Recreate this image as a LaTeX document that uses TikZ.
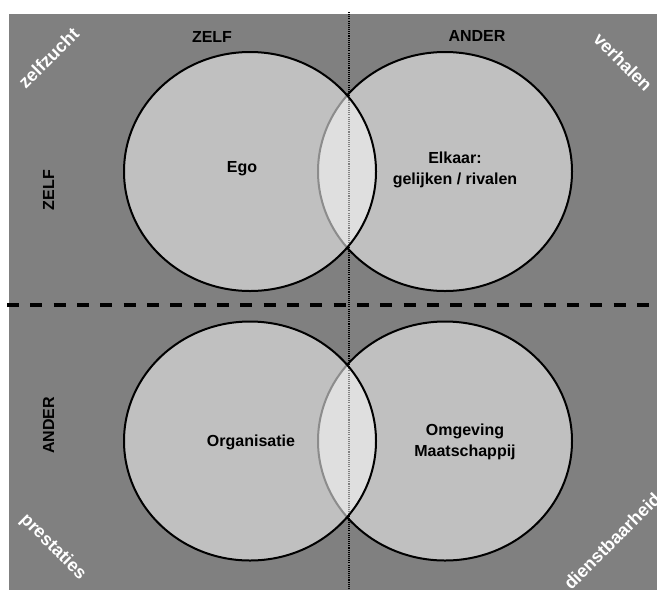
\documentclass[tikz,border=0pt]{standalone}
\usepackage{fontspec}
\setmainfont{Liberation Sans}
\definecolor{bggray}{HTML}{808080}
\definecolor{circgray}{HTML}{C0C0C0}
\definecolor{arcgray}{HTML}{8C8C8C}
\begin{document}
\begin{tikzpicture}[x=0.75pt, y=-0.75pt,
    every node/.style={font=\bfseries\fontsize{12}{15.5}\selectfont, inner sep=0pt, align=center},
    corner/.style={text=white, font=\bfseries\fontsize{13.5}{16}\selectfont},
    ring/.style={line width=1.5pt}]
    \useasboundingbox (0,0) rectangle (657,590);
    \fill[bggray] (9,14) rectangle (657,590);
    % dividers
    \draw[line width=2.6pt, dash pattern=on 9pt off 8.5pt] (7,305) -- (657,305);
    \foreach \cy in {171.5, 441} {
        \fill[circgray, draw=black, ring] (445,\cy) ellipse [x radius=127, y radius=119.5];
        \fill[circgray] (250,\cy) ellipse [x radius=126, y radius=119.5];
    }
    \draw[line width=0.8pt, dash pattern=on 0.8pt off 0.8pt] (349,12) -- (349,590);
    \foreach \cy in {171.5, 441} {
        \begin{scope}
            \clip (250,\cy) ellipse [x radius=126, y radius=119.5];
            \fill[white, opacity=0.5] (445,\cy) ellipse [x radius=127, y radius=119.5];
            \draw[arcgray, ring] (445,\cy) ellipse [x radius=127, y radius=119.5];
        \end{scope}
        \draw[ring] (250,\cy) ellipse [x radius=126, y radius=119.5];
    }
    % labels
    \node (topzelf) at (212,37) {ZELF};
    \node (topander) at (477,36) {ANDER};
    \node[rotate=90] (sidezelf) at (48.5,190) {ZELF};
    \node[rotate=90] (sideander) at (48.5,425.5) {ANDER};
    \node (ego) at (242,169) {Ego};
    \node (elkaar) at (455,170) {Elkaar:\\gelijken / rivalen};
    \node (organisatie) at (251,442) {Organisatie};
    \node (omgeving) at (465,442) {Omgeving\\Maatschappij};
    % corners
    \node[corner, rotate=45] (zelfzucht) at (48.5,58) {zelfzucht};
    \node[corner, rotate=-45] (verhalen) at (623,62) {verhalen};
    \node[corner, rotate=-45] (prestaties) at (53,547) {prestaties};
    \node[corner, rotate=45] (dienstbaarheid) at (612,541) {dienstbaarheid};
\end{tikzpicture}
\end{document}
